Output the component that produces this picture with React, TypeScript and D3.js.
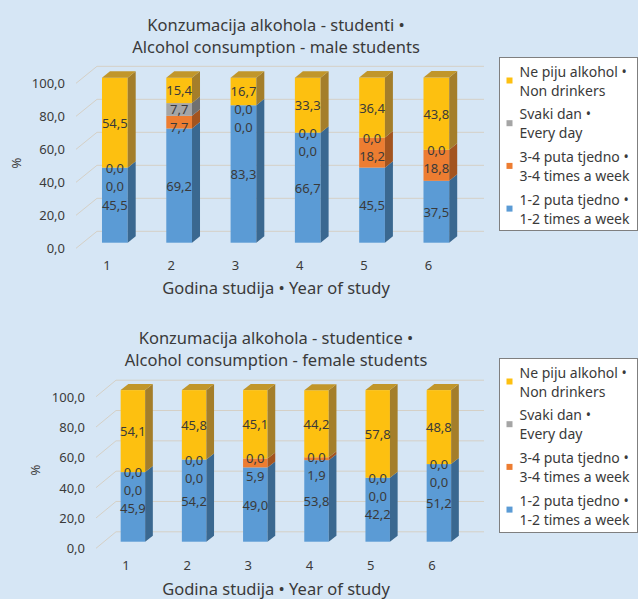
import React, { useEffect, useRef } from 'react';
import * as d3 from 'd3';

const years = ['1', '2', '3', '4', '5', '6'];
const yTicks = [0, 20, 40, 60, 80, 100];

// stack order, bottom to top
const seriesKeys = ['weekly12', 'weekly34', 'daily', 'none'];

const maleWeekly12 = [45.5, 69.2, 83.3, 66.7, 45.5, 37.5];
const maleWeekly34 = [0.0, 7.7, 0.0, 0.0, 18.2, 18.8];
const maleDaily = [0.0, 7.7, 0.0, 0.0, 0.0, 0.0];
const maleNone = [54.5, 15.4, 16.7, 33.3, 36.4, 43.8];

const femaleWeekly12 = [45.9, 54.2, 49.0, 53.8, 42.2, 51.2];
const femaleWeekly34 = [0.0, 0.0, 5.9, 1.9, 0.0, 0.0];
const femaleDaily = [0.0, 0.0, 0.0, 0.0, 0.0, 0.0];
const femaleNone = [54.1, 45.8, 45.1, 44.2, 57.8, 48.8];

// legend order, top to bottom
const legendKeys = ['none', 'daily', 'weekly34', 'weekly12'];
const legendLabels = [
  ['Ne piju alkohol •', 'Non drinkers'],
  ['Svaki dan •', 'Every day'],
  ['3-4 puta tjedno •', '3-4 times a week'],
  ['1-2 puta tjedno •', '1-2 times a week'],
];

const colors: Record<string, { front: string; side: string; top: string }> = {
  weekly12: { front: '#5b9bd5', side: '#3a6890', top: '#4a80b4' },
  weekly34: { front: '#ed7d31', side: '#a3541f', top: '#c96526' },
  daily: { front: '#a5a5a5', side: '#707070', top: '#8a8a8a' },
  none: { front: '#fdc010', side: '#a47e2a', top: '#c1962a' },
};

const FONT = "'Noto Sans', sans-serif";
const TEXT = '#3a3a3a';
const BG = '#d6e6f5';

const makeRows = (a: number[], b: number[], c: number[], d: number[]) =>
  years.map((year, i) => ({ year, weekly12: a[i], weekly34: b[i], daily: c[i], none: d[i] }));

const charts = [
  {
    titleLines: ['Konzumacija alkohola - studenti •', 'Alcohol consumption - male students'],
    titleY: 24,
    rows: makeRows(maleWeekly12, maleWeekly34, maleDaily, maleNone),
    front: { x: 76, y0: 248.3, y100: 83.3 },
    depth: { dx: 21, dy: -17 },
    barLift: 5.6,
    side: { dx: 8, dy: -6.5 },
    xRange: [82.7, 468.5],
    gridRight: 484,
    xLabelY: 265,
    xLabelShift: -8,
    xTitleY: 287,
    pct: [16, 163],
    legend: { x: 499, y: 57, w: 138, h: 173 },
  },
  {
    titleLines: ['Konzumacija alkohola - studentice •', 'Alcohol consumption - female students'],
    titleY: 337,
    rows: makeRows(femaleWeekly12, femaleWeekly34, femaleDaily, femaleNone),
    front: { x: 96, y0: 548.3, y100: 396.7 },
    depth: { dx: 20, dy: -16.5 },
    barLift: 6.6,
    side: { dx: 7.7, dy: -6 },
    xRange: [102.3, 469.5],
    gridRight: 484,
    xLabelY: 565,
    xLabelShift: -7,
    xTitleY: 588,
    pct: [35, 470],
    legend: { x: 499, y: 358, w: 138, h: 174 },
  },
];

const fmt = (v: number) => v.toFixed(1).replace('.', ',');

function drawChart(svg: d3.Selection<SVGSVGElement, unknown, null, undefined>, cfg: any) {
  const g = svg.append('g');

  const yFront = d3.scaleLinear().domain([0, 100]).range([cfg.front.y0, cfg.front.y100]);
  const yBar = d3
    .scaleLinear()
    .domain([0, 100])
    .range([cfg.front.y0 - cfg.barLift, cfg.front.y100 - cfg.barLift]);
  const x = d3.scaleBand().domain(years).range(cfg.xRange).paddingInner(0.6).paddingOuter(0.3);

  // title
  g.selectAll('.title')
    .data(cfg.titleLines)
    .join('text')
    .attr('x', 276)
    .attr('y', (_d, i) => cfg.titleY + i * 22)
    .attr('text-anchor', 'middle')
    .attr('dominant-baseline', 'central')
    .attr('font-size', 16.5)
    .attr('fill', TEXT)
    .text((d: any) => d);

  // gridlines: floor diagonal + back wall
  const backX = cfg.front.x + cfg.depth.dx;
  yTicks.forEach((t) => {
    const yf = yFront(t);
    const yb = yf + cfg.depth.dy;
    g.append('path')
      .attr('d', `M${cfg.front.x},${yf}L${backX},${yb}L${cfg.gridRight},${yb}`)
      .attr('fill', 'none')
      .attr('stroke', '#d5d0c6')
      .attr('stroke-width', 1);
    g.append('text')
      .attr('x', cfg.front.x - 11)
      .attr('y', yf)
      .attr('text-anchor', 'end')
      .attr('dominant-baseline', 'central')
      .attr('font-size', 13)
      .attr('fill', TEXT)
      .text(fmt(t));
  });

  // bars
  const stacked = d3.stack<any>().keys(seriesKeys)(cfg.rows);
  const bw = x.bandwidth();
  const { dx, dy } = cfg.side;
  const labels: any[] = [];

  cfg.rows.forEach((row: any, i: number) => {
    const x0 = x(row.year)!;
    const x1 = x0 + bw;
    let topKey = '';
    stacked.forEach((s) => {
      if (s[i][1] - s[i][0] > 0) topKey = s.key;
    });
    const barLabels: any[] = [];
    stacked.forEach((s) => {
      const [v0, v1] = s[i];
      const c = colors[s.key];
      const yb = yBar(v0);
      const yt = yBar(v1);
      if (v1 - v0 > 0) {
        g.append('rect')
          .attr('x', x0)
          .attr('y', yt)
          .attr('width', bw)
          .attr('height', yb - yt)
          .attr('fill', c.front);
        g.append('path')
          .attr('d', `M${x1},${yt}L${x1 + dx},${yt + dy}L${x1 + dx},${yb + dy}L${x1},${yb}Z`)
          .attr('fill', c.side);
        if (s.key === topKey) {
          g.append('path')
            .attr('d', `M${x0},${yt}L${x0 + dx},${yt + dy}L${x1 + dx},${yt + dy}L${x1},${yt}Z`)
            .attr('fill', c.top);
        }
      }
      barLabels.push({ x: x0 + bw / 2, y: (yb + yt) / 2, text: fmt(row[s.key]) });
    });
    // keep the top label, push crowded labels below it downward
    for (let j = barLabels.length - 2; j >= 0; j--) {
      barLabels[j].y = Math.max(barLabels[j].y, barLabels[j + 1].y + 18);
    }
    labels.push(...barLabels);
  });

  g.selectAll('.dlabel')
    .data(labels)
    .join('text')
    .attr('x', (d) => d.x)
    .attr('y', (d) => d.y)
    .attr('text-anchor', 'middle')
    .attr('dominant-baseline', 'central')
    .attr('font-size', 13)
    .attr('fill', TEXT)
    .text((d) => d.text);

  // x tick labels
  g.selectAll('.xtick')
    .data(years)
    .join('text')
    .attr('x', (d) => x(d)! + bw / 2 + cfg.xLabelShift)
    .attr('y', cfg.xLabelY)
    .attr('text-anchor', 'middle')
    .attr('dominant-baseline', 'central')
    .attr('font-size', 13)
    .attr('fill', TEXT)
    .text((d) => d);

  g.append('text')
    .attr('x', 276)
    .attr('y', cfg.xTitleY)
    .attr('text-anchor', 'middle')
    .attr('dominant-baseline', 'central')
    .attr('font-size', 16.5)
    .attr('fill', TEXT)
    .text('Godina studija • Year of study');

  g.append('text')
    .attr('transform', `translate(${cfg.pct[0]},${cfg.pct[1]}) rotate(-90)`)
    .attr('text-anchor', 'middle')
    .attr('dominant-baseline', 'central')
    .attr('font-size', 13)
    .attr('fill', TEXT)
    .text('%');

  // legend
  const lg = g.append('g').attr('transform', `translate(${cfg.legend.x},${cfg.legend.y})`);
  lg.append('rect')
    .attr('x', 0.5)
    .attr('y', 0.5)
    .attr('width', cfg.legend.w)
    .attr('height', cfg.legend.h)
    .attr('fill', '#ffffff')
    .attr('stroke', '#7f7f7f')
    .attr('stroke-width', 1);
  legendKeys.forEach((key, i) => {
    const y1 = 14 + i * 42.7;
    lg.append('rect')
      .attr('x', 7.5)
      .attr('y', y1 + 9.5 - 3)
      .attr('width', 6)
      .attr('height', 6)
      .attr('fill', colors[key].front);
    legendLabels[i].forEach((line, j) => {
      lg.append('text')
        .attr('x', 20.5)
        .attr('y', y1 + j * 19)
        .attr('dominant-baseline', 'central')
        .attr('font-size', 14)
        .attr('fill', TEXT)
        .text(line);
    });
  });
}

const App: React.FC = () => {
  const svgRef = useRef<SVGSVGElement | null>(null);

  useEffect(() => {
    document.body.style.margin = '0';
    const svg = d3.select(svgRef.current!);
    svg.selectAll('*').remove();
    svg.append('rect').attr('width', 638).attr('height', 599).attr('fill', BG);
    charts.forEach((cfg) => drawChart(svg as any, cfg));
  }, []);

  return (
    <svg
      ref={svgRef}
      width={638}
      height={599}
      style={{ display: 'block', fontFamily: FONT }}
    ></svg>
  );
};

export default App;
